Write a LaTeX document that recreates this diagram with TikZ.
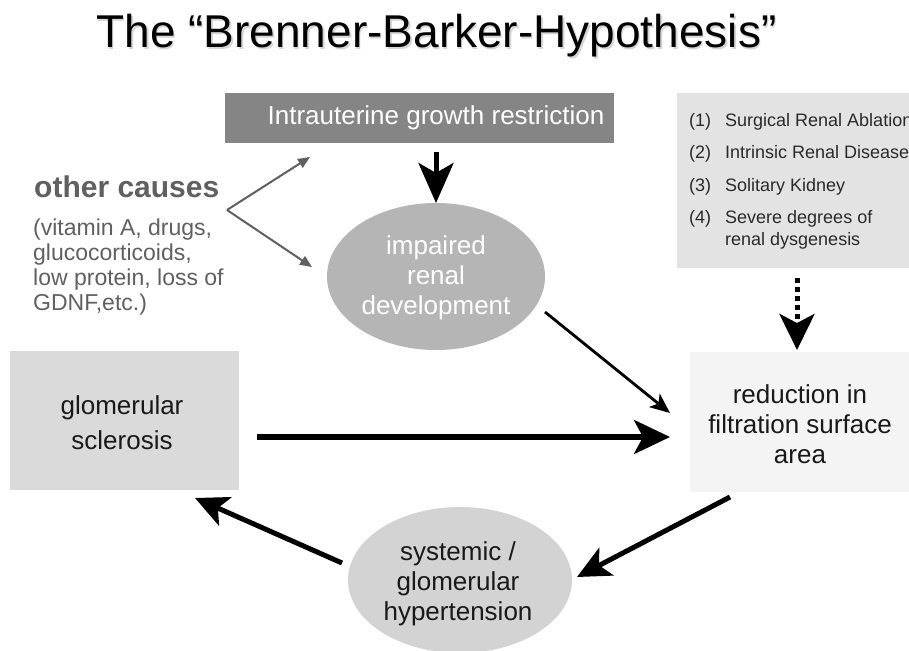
\documentclass[tikz,border=0pt]{standalone}
\usepackage{fontspec}
\setmainfont{Liberation Sans}
\usetikzlibrary{arrows.meta,shapes.geometric}
\definecolor{iugrbg}{HTML}{858585}
\definecolor{impbg}{HTML}{B5B5B5}
\definecolor{listbg}{HTML}{E3E3E3}
\definecolor{redbg}{HTML}{F4F4F4}
\definecolor{sclbg}{HTML}{DADADA}
\definecolor{hypbg}{HTML}{D3D3D3}
\definecolor{causecol}{HTML}{606060}
\definecolor{listtxt}{HTML}{2A2A2A}
\begin{document}
\begin{tikzpicture}[x=1pt,y=-1pt,
  plainbox/.style={rectangle, draw=none, inner sep=0pt, outer sep=0pt},
  oval/.style={ellipse, draw=none, inner sep=0pt, outer sep=0pt},
  bodytxt/.style={font=\fontsize{26}{30}\selectfont, align=center, inner sep=0pt},
  listtext/.style={font=\fontsize{18}{22}\selectfont, text=listtxt, anchor=base west, inner sep=0pt},
  causetxt/.style={font=\fontsize{23}{25}\selectfont, text=causecol, anchor=base west, inner sep=0pt},
  bigarrow/.style={line width=5.5pt, -{Stealth[length=36pt,width=34pt,inset=9pt]}},
  midarrow/.style={line width=2.8pt, -{Stealth[length=20pt,width=17pt,inset=5pt]}},
  greyarrow/.style={line width=2pt, draw=causecol, -{Triangle[length=12pt,width=10pt,fill=causecol]}},
  dotarrow/.style={line width=5pt, dash pattern=on 5pt off 4pt, -{Stealth[length=36pt,width=35pt,inset=9pt]}}
]
\clip (0,0) rectangle (909,650);
\fill[white] (0,0) rectangle (909,650);

% title
\node[font=\fontsize{46}{50}\selectfont, text=black!16, anchor=base, inner sep=0pt] (titleshadow) at (438,49.5) {The “Brenner-Barker-Hypothesis”};
\node[font=\fontsize{46}{50}\selectfont, anchor=base, inner sep=0pt] (title) at (436.5,48) {The “Brenner-Barker-Hypothesis”};

% boxes and ovals
\node[plainbox, fill=iugrbg, minimum width=389pt, minimum height=50pt] (iugr) at (419.5,118) {};
\node[bodytxt, text=white] (iugrtxt) at (436,118) {Intrauterine growth restriction};

\node[oval, fill=impbg, minimum width=218pt, minimum height=147pt] (imp) at (436,276.5) {};
\node[bodytxt, text=white] (imptxt) at (436,278) {impaired\\renal\\development};

\node[plainbox, fill=listbg, minimum width=235pt, minimum height=175pt] (list) at (794.5,180.5) {};
\node[listtext] (n1) at (689,126) {(1)};
\node[listtext] (t1) at (725,126) {Surgical Renal Ablation};
\node[listtext] (n2) at (689,158) {(2)};
\node[listtext] (t2) at (725,158) {Intrinsic Renal Disease};
\node[listtext] (n3) at (689,191) {(3)};
\node[listtext] (t3) at (725,191) {Solitary Kidney};
\node[listtext] (n4) at (689,223) {(4)};
\node[listtext] (t4) at (725,223) {Severe degrees of};
\node[listtext] (t4b) at (725,245) {renal dysgenesis};

\node[plainbox, fill=redbg, minimum width=222pt, minimum height=140pt] (red) at (801,422) {};
\node[bodytxt, text=black!90] (redtxt) at (800,424) {reduction in\\filtration surface\\area};

\node[plainbox, fill=sclbg, minimum width=229pt, minimum height=139pt] (scl) at (124.5,420.5) {};
\node[bodytxt, text=black!90, font=\fontsize{26}{35}\selectfont] (scltxt) at (122,423) {glomerular\\sclerosis};

\node[oval, fill=hypbg, minimum width=224pt, minimum height=146pt] (hyp) at (460,580) {};
\node[bodytxt, text=black!90] (hyptxt) at (458,584) {systemic /\\glomerular\\hypertension};

% other causes
\node[font=\bfseries\fontsize{30}{32}\selectfont, text=causecol, anchor=base west, inner sep=0pt] (oc) at (34,197) {other causes};
\node[causetxt] (oc1) at (33,235) {(vitamin A, drugs,};
\node[causetxt] (oc2) at (33,260) {glucocorticoids,};
\node[causetxt] (oc3) at (33,285) {low protein, loss of};
\node[causetxt] (oc4) at (33,310) {GDNF,etc.)};

% connectors
\coordinate (fork) at (227,210);
\draw[greyarrow] (fork) -- ([shift={(85,14)}]iugr.south west);
\draw[greyarrow] (fork) -- ([shift={(-15,-9.5)}]imp.west);

\draw[bigarrow, line width=5pt, -{Stealth[length=40pt,width=35pt,inset=10pt]}] ([shift={(16.5,9)}]iugr.south) -- (imp.north);
\draw[midarrow] ([shift={(109,35.5)}]imp.center) -- ([shift={(-20,-9)}]red.west);
\draw[bigarrow] ([shift={(18,16.5)}]scl.east) -- ([shift={(-20,15)}]red.west);
\draw[dotarrow] ([shift={(2.5,10)}]list.south) -- ([shift={(-4,-2)}]red.north);
\draw[bigarrow, line width=5pt, -{Stealth[length=33pt,width=31pt,inset=8pt]}] ([shift={(-71,5)}]red.south) -- ([shift={(117,-3)}]hyp.center);
\draw[bigarrow, line width=5pt, -{Stealth[length=33pt,width=31pt,inset=8pt]}] ([shift={(-118,-17)}]hyp.center) -- ([shift={(70.5,8)}]scl.south);
\end{tikzpicture}
\end{document}
